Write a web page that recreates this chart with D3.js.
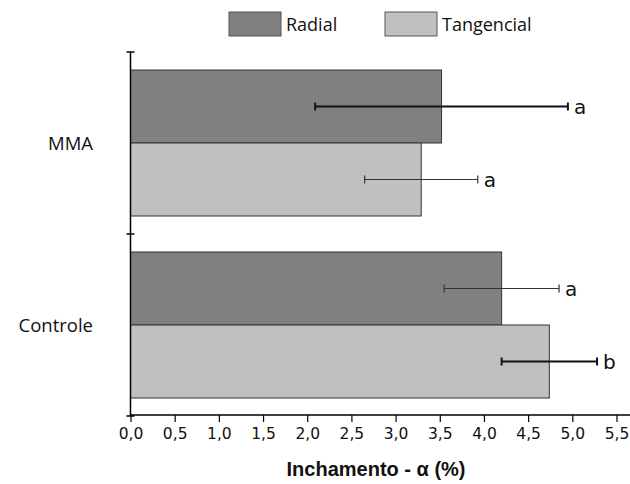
<!DOCTYPE html>
<html><head><meta charset="utf-8">
<script src="https://cdn.jsdelivr.net/npm/d3@7"></script>
<style>body{margin:0;background:#fff}svg{display:block}</style>
</head><body>
<svg id="c" width="630" height="484"></svg>
<script>
const categories = ["MMA", "Controle"];
const seriesNames = ["Radial", "Tangencial"];
const radialValues = [3.52, 4.20];
const tangencialValues = [3.29, 4.74];
const radialErrors = [1.43, 0.65];
const tangencialErrors = [0.64, 0.54];
const radialLetters = ["a", "a"];
const tangencialLetters = ["a", "b"];
const xTicks = [0, 0.5, 1, 1.5, 2, 2.5, 3, 3.5, 4, 4.5, 5, 5.5];
const xTitle = "Inchamento - α (%)";

const colors = {Radial: "#808080", Tangencial: "#c0c0c0"};
const svg = d3.select("#c");

const x = d3.scaleLinear().domain([0, 5.5]).range([130.5, 616.5]);
const y = d3.scaleBand().domain(categories).range([52, 416]).padding(0);
const inner = d3.scaleBand().domain(seriesNames).range([18, y.bandwidth() - 18]).padding(0);

const data = [];
categories.forEach((c, i) => {
  data.push({cat: c, s: "Radial", v: radialValues[i], e: radialErrors[i], l: radialLetters[i], thick: i === 0});
  data.push({cat: c, s: "Tangencial", v: tangencialValues[i], e: tangencialErrors[i], l: tangencialLetters[i], thick: i === 1});
});

// bars
svg.append("g").selectAll("rect").data(data).join("rect")
  .attr("x", x(0))
  .attr("y", d => y(d.cat) + inner(d.s))
  .attr("width", d => x(d.v) - x(0))
  .attr("height", inner.bandwidth())
  .attr("fill", d => colors[d.s])
  .attr("stroke", "#333")
  .attr("stroke-width", 1);

// error bars
const eg = svg.append("g");
data.forEach(d => {
  const cy = y(d.cat) + inner(d.s) + inner.bandwidth() / 2;
  const col = d.thick ? "#111" : "#333";
  const sw = d.thick ? 2 : 1.2;
  const g = eg.append("g").attr("stroke", col).attr("stroke-width", sw);
  g.append("line").attr("x1", x(d.v - d.e)).attr("x2", x(d.v + d.e)).attr("y1", cy).attr("y2", cy);
  [d.v - d.e, d.v + d.e].forEach(v => {
    g.append("line").attr("x1", x(v)).attr("x2", x(v)).attr("y1", cy - 4).attr("y2", cy + 4);
  });
  eg.append("text").attr("x", x(d.v + d.e) + 6).attr("y", cy + 7)
    .attr("font-family", "DejaVu Sans").attr("font-size", 20).attr("fill", "#111").text(d.l);
});

// x axis
const xa = svg.append("g").attr("transform", "translate(0,415)")
  .call(d3.axisBottom(x).tickValues(xTicks).tickSize(7).tickPadding(6)
    .tickFormat(d => d3.format(".1f")(d).replace(".", ",")));
xa.select(".domain").remove();
xa.append("line").attr("x1", x(0)).attr("x2", 630).attr("stroke", "#000").attr("stroke-width", 1.5);
xa.selectAll(".tick line").attr("stroke", "#000").attr("stroke-width", 1.2);
xa.selectAll(".tick text").attr("font-family", "DejaVu Sans").attr("font-size", 15.5).attr("fill", "#111");

// y axis
const ya = svg.append("g");
ya.append("line").attr("x1", x(0)).attr("x2", x(0)).attr("y1", y.range()[0]).attr("y2", y.range()[1])
  .attr("stroke", "#000").attr("stroke-width", 1.5);
const edges = categories.map(c => y(c)).concat([y.range()[1]]);
ya.selectAll("line.t").data(edges).join("line").attr("class", "t")
  .attr("x1", x(0) - 4).attr("x2", x(0) + 4).attr("y1", d => d).attr("y2", d => d)
  .attr("stroke", "#000").attr("stroke-width", 1.5);
ya.selectAll("text").data(categories).join("text")
  .attr("x", 93).attr("y", d => y(d) + y.bandwidth() / 2 + 7)
  .attr("text-anchor", "end").attr("font-family", "Open Sans").attr("font-size", 18.5).attr("fill", "#111")
  .text(d => d);

// axis title
svg.append("text").attr("x", 376).attr("y", 476).attr("text-anchor", "middle")
  .attr("font-family", "Liberation Sans, Arial").attr("font-weight", "bold").attr("font-size", 20).attr("fill", "#111")
  .text(xTitle);

// legend
const legX = [229, 385];
const lg = svg.append("g");
seriesNames.forEach((s, i) => {
  lg.append("rect").attr("x", legX[i]).attr("y", 12).attr("width", 52).attr("height", 24)
    .attr("fill", colors[s]).attr("stroke", "#555").attr("stroke-width", 1);
  lg.append("text").attr("x", legX[i] + 57).attr("y", 31)
    .attr("font-family", "Open Sans").attr("font-size", 18).attr("fill", "#111").text(s);
});
</script>
</body></html>
